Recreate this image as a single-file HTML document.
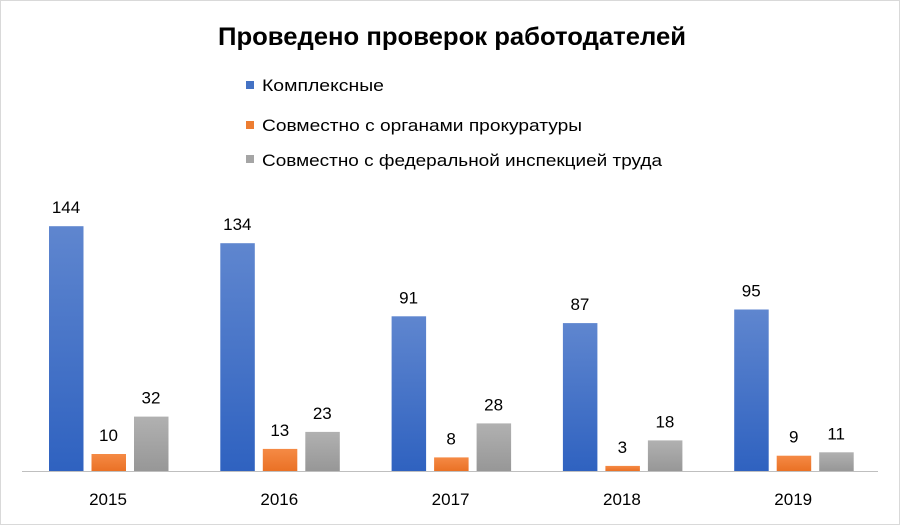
<!DOCTYPE html>
<html><head><meta charset="utf-8"><style>
body{margin:0;background:#fff}
svg{display:block;font-family:"Liberation Sans","DejaVu Sans",sans-serif}
</style></head><body>
<svg width="900" height="525" viewBox="0 0 900 525">
<defs>
<linearGradient id="b" x1="0" y1="0" x2="0" y2="1"><stop offset="0" stop-color="#5f86cf"/><stop offset="1" stop-color="#2f62c0"/></linearGradient>
<linearGradient id="o" x1="0" y1="0" x2="0" y2="1"><stop offset="0" stop-color="#f58a45"/><stop offset="1" stop-color="#ea7125"/></linearGradient>
<linearGradient id="g" x1="0" y1="0" x2="0" y2="1"><stop offset="0" stop-color="#b1b1b1"/><stop offset="1" stop-color="#979797"/></linearGradient>
</defs>
<rect x="0.5" y="0.5" width="899" height="524" fill="#fff" stroke="#d9d9d9"/>
<text x="218" y="45" font-size="25" font-weight="bold" fill="#000" textLength="468" lengthAdjust="spacingAndGlyphs">Проведено проверок работодателей</text>
<rect x="246" y="81" width="8" height="8" fill="#4472c4"/>
<text x="262" y="91" font-size="17" fill="#000" textLength="122" lengthAdjust="spacingAndGlyphs">Комплексные</text>
<rect x="246" y="121" width="8" height="8" fill="#ed7d31"/>
<text x="262" y="131" font-size="17" fill="#000" textLength="320" lengthAdjust="spacingAndGlyphs">Совместно с органами прокуратуры</text>
<rect x="246" y="155" width="8" height="8" fill="#a5a5a5"/>
<text x="262" y="166" font-size="17" fill="#000" textLength="400" lengthAdjust="spacingAndGlyphs">Совместно с федеральной инспекцией труда</text>
<g id="bars" font-size="17" text-anchor="middle" fill="#000"></g>
<line x1="22" y1="471.5" x2="878" y2="471.5" stroke="#bfbfbf" stroke-width="1"/>
</svg>
<script>
var d=[[2015,144,10,32],[2016,134,13,23],[2017,91,8,28],[2018,87,3,18],[2019,95,9,11]];
var g=document.getElementById('bars'),ns='http://www.w3.org/2000/svg',s=1.70,base=471,f=['url(#b)','url(#o)','url(#g)'];
d.forEach(function(r,i){
 var gx=49+i*171.3;
 for(var k=0;k<3;k++){
  var x=gx+k*42.5,h=r[k+1]*s;
  var e=document.createElementNS(ns,'rect');
  e.setAttribute('x',x);e.setAttribute('y',base-h);e.setAttribute('width',34.5);e.setAttribute('height',h);e.setAttribute('fill',f[k]);g.appendChild(e);
  var t=document.createElementNS(ns,'text');t.setAttribute('x',x+17);t.setAttribute('y',base-h-13);t.textContent=r[k+1];g.appendChild(t);
 }
 var t=document.createElementNS(ns,'text');t.setAttribute('x',gx+59);t.setAttribute('y',505);t.textContent=r[0];g.appendChild(t);
});
</script>
</body></html>
